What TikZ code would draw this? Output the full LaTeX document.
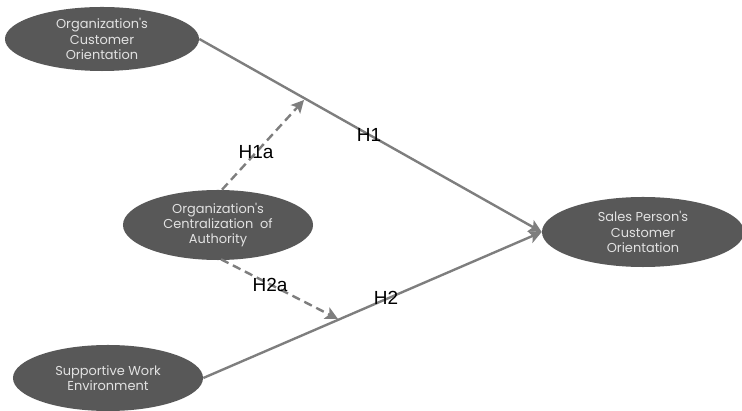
\documentclass[tikz,border=0pt]{standalone}
\usepackage{fontspec}
\setmainfont{Liberation Sans}
\newfontfamily\ovalfont{Poppins}
\usetikzlibrary{arrows.meta,shapes.geometric}
\definecolor{ovalgray}{HTML}{585858}
\definecolor{linegray}{HTML}{7E7E7E}
\definecolor{ovaltext}{HTML}{E2E2E2}
\tikzset{
	oval/.style={ellipse, fill=ovalgray, draw=none, text=ovaltext, align=center, inner sep=0pt,
		font=\ovalfont\fontsize{9.2}{10.8}\selectfont},
	pathline/.style={line width=1.7pt, color=linegray, -{Stealth[length=9pt,width=9pt,inset=2pt]}},
	modline/.style={pathline, dash pattern=on 6pt off 3.5pt},
	hyplabel/.style={font=\fontsize{13.5}{15}\selectfont, text=black}
}

\begin{document}
\begin{tikzpicture}[x=0.025cm, y=-0.025cm]
			%%%%% START %%%%%
			\useasboundingbox (0, 0) rectangle (742, 411);
			
			\node[oval, minimum width=4.85cm, minimum height=1.6cm] (orgco) at (102, 39) {Organization's\\Customer\\Orientation};
			\node[oval, minimum width=4.75cm, minimum height=1.75cm] (central) at (218, 225) {Organization's\\Centralization~ of\\Authority};
			\node[oval, minimum width=4.75cm, minimum height=1.65cm] (work) at (108, 378) {Supportive Work\\Environment};
			\node[oval, minimum width=5.05cm, minimum height=1.75cm] (sales) at (643, 232) {Sales Person's\\Customer\\Orientation};
			
			\coordinate (h1atip) at (304, 100);
			\coordinate (h2atip) at (338, 319);
			
			\draw[pathline] (orgco.east) -- (sales.west);
			\draw[pathline] (work.east) -- (sales.west);
			
			\draw[modline] (central.north) ++(4, 0) -- (h1atip);
			\draw[modline] (central.south) ++(3, -1) -- (h2atip);
			
			\node[hyplabel] (lh1) at (369, 135) {H1};
			\node[hyplabel] (lh1a) at (256, 152) {H1a};
			\node[hyplabel] (lh2a) at (270, 285) {H2a};
			\node[hyplabel] (lh2) at (386, 298) {H2};
			%%%%% END %%%%%
		\end{tikzpicture}
\end{document}
